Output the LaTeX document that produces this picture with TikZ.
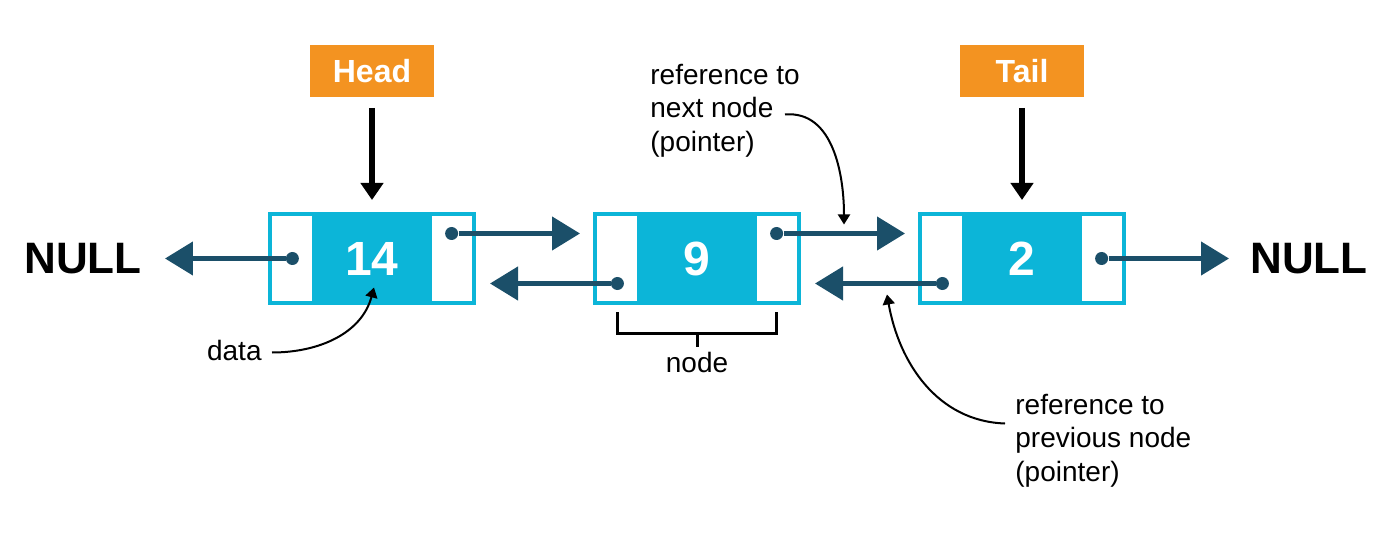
\documentclass[tikz,border=0pt]{standalone}
\usepackage{fontspec}
\setmainfont{Liberation Sans}
\usetikzlibrary{arrows.meta,positioning}
\definecolor{cellcyan} {RGB}{12 ,181,216}
\definecolor{ptrteal}  {RGB}{27 , 79,105}
\definecolor{tagorange}{RGB}{243,147, 33}

\begin{document}
\begin{tikzpicture}[
  node distance=58.5pt,
  every node/.style={align=center},
  cell/.style={draw=cellcyan, fill=cellcyan, line width=2pt, minimum width=102pt, minimum height=44.5pt, text=white, font=\fontsize{24pt}{26pt}\selectfont\bfseries},
  slot/.style={fill=white, inner sep=0, minimum width=20pt, minimum height=42.5pt},
  tag/.style={fill=tagorange, text=white, inner sep=0, minimum width=62pt, minimum height=26pt, font=\fontsize{16pt}{18pt}\selectfont\bfseries},
  nullnode/.style={inner sep=0, font=\fontsize{22pt}{24pt}\selectfont\bfseries},
  note/.style={inner sep=0, align=left, font=\fontsize{14pt}{16.75pt}\selectfont},
  dot/.style={circle, fill=ptrteal, inner sep=0, minimum size=6.5pt},
  ptr/.style={-{Triangle[length=14pt, width=16.5pt]}, line width=2.2pt, ptrteal},
  headarrow/.style={-{Triangle[length=8.5pt, width=11pt]}, line width=2.7pt, black},
  callout/.style={-{Triangle[length=5pt, width=6pt]}, line width=1pt, black},
  brace/.style={line width=1.5pt, black}
]
  \useasboundingbox (-186pt,-140.75pt) rectangle (514pt,129.25pt);

  % Nodes
  \node (n1) [cell] {14};
  \node (n2) [cell, right=of n1] {9};
  \node (n3) [cell, right=of n2] {2};

  \node (n1l) [slot, anchor=west] at ([xshift=2pt]n1.west) {};
  \node (n1r) [slot, anchor=east] at ([xshift=-2pt]n1.east) {};
  \node (n2l) [slot, anchor=west] at ([xshift=2pt]n2.west) {};
  \node (n2r) [slot, anchor=east] at ([xshift=-2pt]n2.east) {};
  \node (n3l) [slot, anchor=west] at ([xshift=2pt]n3.west) {};
  \node (n3r) [slot, anchor=east] at ([xshift=-2pt]n3.east) {};

  \node (head) [tag, above=57.5pt of n1] {Head};
  \node (tail) [tag, above=57.5pt of n3] {Tail};

  \node (nullL) [nullnode, left=63pt of n1] {NULL};
  \node (nullR) [nullnode, right=62pt of n3] {NULL};

  \node (d1l) [dot] at (n1l) {};
  \node (d1r) [dot] at ([yshift=12.5pt]n1r.center) {};
  \node (d2l) [dot] at ([yshift=-12.5pt]n2l.center) {};
  \node (d2r) [dot] at ([yshift=12.5pt]n2r.center) {};
  \node (d3l) [dot] at ([yshift=-12.5pt]n3l.center) {};
  \node (d3r) [dot] at (n3r) {};

  \node (nextnote) [note, anchor=west] at ([xshift=-23.5pt, yshift=74pt]n2.center) {reference to\\next node\\(pointer)};
  \node (prevnote) [note, anchor=west] at ([xshift=-3.5pt, yshift=-91pt]n3.center) {reference to\\previous node\\(pointer)};
  \node (datanote) [note, anchor=east] at ([xshift=-55pt, yshift=-46pt]n1.center) {data};
  \node (nodenote) [note, below=23.5pt of n2] {node};

  % Coordinates
  \coordinate (n2in)    at ([xshift=-6.5pt, yshift=12.5pt]n2.west);
  \coordinate (n1back)  at ([xshift=7pt, yshift=-12.5pt]n1.east);
  \coordinate (n3in)    at ([xshift=-6.5pt, yshift=12.5pt]n3.west);
  \coordinate (n2back)  at ([xshift=7pt, yshift=-12.5pt]n2.east);
  \coordinate (nullLin) at ([xshift=11.5pt]nullL.east);
  \coordinate (nullRin) at ([xshift=-10.5pt]nullR.west);
  \coordinate (nextfrom) at ([xshift=67.5pt, yshift=-2pt]nextnote.west);
  \coordinate (nexttip)  at ([xshift=21.5pt, yshift=17pt]n2.east);
  \coordinate (prevfrom) at ([xshift=-5pt, yshift=8.5pt]prevnote.west);
  \coordinate (prevtip)  at ([xshift=-15.5pt, yshift=-18pt]n3.west);
  \coordinate (datafrom) at ([xshift=5pt, yshift=-1pt]datanote.east);
  \coordinate (datatip)  at ([xshift=1pt, yshift=-14.5pt]n1.center);
  \coordinate (brkL) at ([yshift=-5.5pt]n2l.south);
  \coordinate (brkR) at ([yshift=-5.5pt]n2r.south);
  \coordinate (brkM) at ([yshift=-13.5pt]n2.south);

  % Paths
  \draw [ptr] (d1r) -- (n2in);
  \draw [ptr] (d2l) -- (n1back);
  \draw [ptr] (d2r) -- (n3in);
  \draw [ptr] (d3l) -- (n2back);
  \draw [ptr] (d1l) -- (nullLin);
  \draw [ptr] (d3r) -- (nullRin);

  \draw [headarrow, shorten <=5.5pt, shorten >=6pt] (head) -- (n1);
  \draw [headarrow, shorten <=5.5pt, shorten >=6pt] (tail) -- (n3);

  \draw [callout] (nextfrom) to[out=5, in=90] (nexttip);
  \draw [callout] (prevfrom) to[out=178, in=-80] (prevtip);
  \draw [callout] (datafrom) to[out=0, in=-105] (datatip);

  \draw [brace] (brkL) -- ++(0,-10.5pt) -| (brkR);
  \draw [brace, shorten >=2.5pt] (brkM) -- (nodenote.north);
\end{tikzpicture}
\end{document}
